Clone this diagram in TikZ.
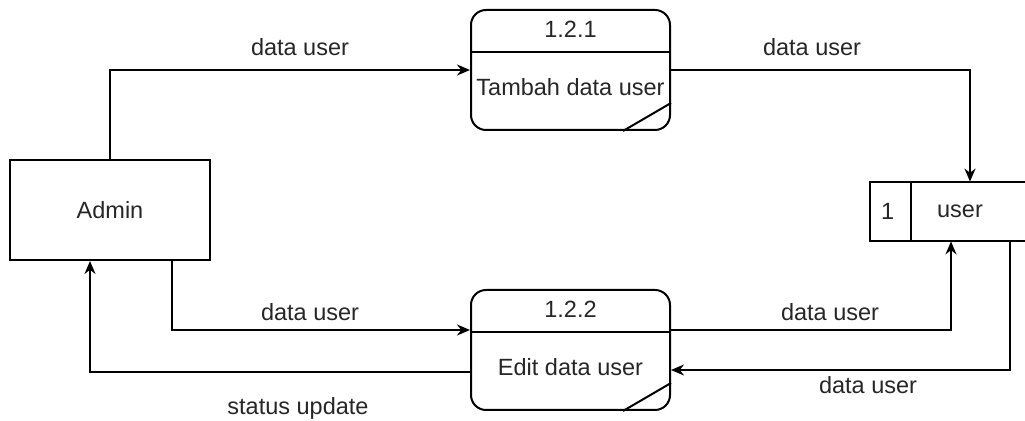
\documentclass[tikz,border=0pt]{standalone}
\usepackage{fontspec}
\setmainfont{Liberation Sans}
\usetikzlibrary{arrows.meta,calc}
\begin{document}
\begin{tikzpicture}[x=0.5pt,y=-0.5pt,
  every node/.style={font=\fontsize{11.75pt}{14pt}\selectfont, text=black!85},
  entity/.style={draw, line width=1pt, minimum width=100pt, minimum height=50pt, inner sep=0pt},
  process/.style={draw, line width=1pt, rounded corners=7.5pt, minimum width=99.5pt, minimum height=60pt, inner sep=0pt},
  storebox/.style={minimum width=77.5pt, minimum height=29.5pt, inner sep=0pt},
  flow/.style={line width=1pt, -{Stealth[length=6.5pt,width=5.5pt]}},
  part/.style={line width=1pt},
  lbl/.style={inner sep=0pt}
]
\useasboundingbox (0,0) rectangle (1025,421);

% external entity
\node[entity] (admin) at (110,210) {Admin};

% processes
\node[process] (p1) at (570.5,70) {};
\node[process] (p2) at (570.5,350) {};

\foreach \p/\num/\txt in {p1/1.2.1/Tambah data user, p2/1.2.2/Edit data user}{
  \draw[part] ([yshift=-21.5pt]\p.north west) -- ([yshift=-21.5pt]\p.north east);
  \draw[part] ([xshift=-24pt]\p.south east) -- ([yshift=14pt]\p.south east);
  \node[lbl] (\p num) at ([yshift=-10pt]\p.north) {\num};
  \node[lbl] (\p txt) at ([yshift=-8.5pt]\p.center) {\txt};
}

% data store (open on the right)
\node[storebox] (store) at (947.5,211.5) {};
\draw[part] (store.north east) -- (store.north west) -- (store.south west) -- (store.south east);
\draw[part] ([xshift=20.5pt]store.north west) -- ([xshift=20.5pt]store.south west);
\node[lbl] (storeid) at ([xshift=9pt]store.west) {1};
\node[lbl] (storename) at ([xshift=6.25pt]store.center) {user};

% data flows
\draw[flow] (admin.north) |- (p1.west);
\draw[flow] (p1.east) -| ([xshift=11.25pt]store.north);
\draw[flow] ([xshift=31pt]admin.south) |- ([yshift=10pt]p2.west);
\draw[flow] ([yshift=10pt]p2.east) -| ([xshift=1.75pt]store.south);
\draw[flow] ([xshift=31.25pt]store.south) |- ([yshift=-10pt]p2.east);
\draw[flow] ([yshift=-11pt]p2.west) -| ([xshift=-10pt]admin.south);

% flow labels
\node[lbl] (l1) at (300,47) {data user};
\node[lbl] (l2) at (812,47) {data user};
\node[lbl] (l3) at (310,312) {data user};
\node[lbl] (l4) at (830,312) {data user};
\node[lbl] (l5) at (868,385) {data user};
\node[lbl] (l6) at (298,408) {status update};
\end{tikzpicture}
\end{document}
